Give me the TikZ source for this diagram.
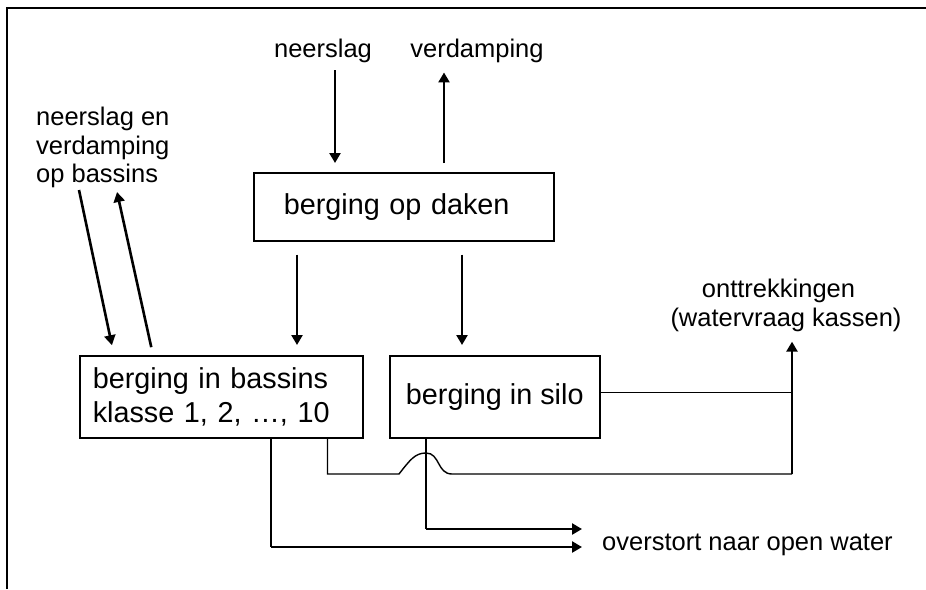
\documentclass[tikz,border=0pt]{standalone}
\usepackage{fontspec}
\setmainfont{Liberation Sans}
\usetikzlibrary{arrows.meta,calc}
\newcommand\boxfont{\fontsize{28.8}{34}\selectfont}
\newcommand\lblfont{\fontsize{25.5}{28.5}\selectfont}
\begin{document}
\begin{tikzpicture}[x=1pt,y=-1pt,
  box/.style={draw, line width=1.5pt, inner ysep=0pt, font=\boxfont},
  lbl/.style={inner sep=0pt, font=\lblfont},
  wire/.style={line width=1.4pt},
  flow/.style={line width=2.6pt, -{Triangle[length=10pt,width=11pt]}}]
\useasboundingbox (0,0) rectangle (926,589);
% frame: top and left edge only
\draw[line width=2.4pt] (7,589) -- (7,8) -- (926,8);

% storage boxes
\node[box, anchor=north west, minimum width=300pt, minimum height=68pt,
      text width=240pt, inner xsep=30pt, align=left] (daken) at (253,172) {berging op daken};
\node[box, anchor=north west, minimum width=283pt, minimum height=82pt,
      text width=257pt, inner xsep=13pt, align=left] (bassins) at (79,355)
      {berging in bassins\\klasse 1, 2, …, 10};
\node[box, anchor=north west, minimum width=210pt, minimum height=82pt] (silo) at (389,355) {berging in silo};

% labels
\node[lbl, anchor=base] (neer) at (323,57) {neerslag};
\node[lbl, anchor=base] (verd) at (477,57) {verdamping};
\node[lbl, anchor=north west, align=left] (nvb) at (36,107) {neerslag en\\verdamping\\op bassins};
\node[lbl, anchor=north, align=center] (ott) at (786,279) {onttrekkingen\hspace*{15pt}\\(watervraag kassen)};
\node[lbl, anchor=base west] (over) at (602,550) {overstort naar open water};

% roof: precipitation in, evaporation out
\coordinate (inN) at ([xshift=82pt]daken.north west);
\coordinate (outV) at ([xshift=191pt]daken.north west);
\draw[flow, shorten <=8pt, shorten >=9pt] (inN |- neer.south) -- (inN);
\draw[flow, shorten <=9pt, shorten >=10pt] (outV) -- (outV |- verd.south);

% roof to basins and silo
\coordinate (dA) at ([xshift=44pt]daken.south west);
\coordinate (dB) at ([xshift=209pt]daken.south west);
\draw[flow, shorten <=13pt, shorten >=10pt] (dA) -- (dA |- bassins.north);
\draw[flow, shorten <=13pt, shorten >=10pt] (dB) -- (dB |- silo.north);

% basins: precipitation and evaporation
\coordinate (bTopIn) at (79,190);
\coordinate (bTopOut) at (117,192);
\draw[flow, shorten >=10pt] (bTopIn) -- ([xshift=35pt]bassins.north west);
\draw[flow, shorten <=8pt] ([xshift=74pt]bassins.north west) -- (bTopOut);

% withdrawals
\coordinate (ottFoot) at (792,474);
\draw[wire] ([yshift=4pt]silo.east) -- ([yshift=4pt]silo.east -| ottFoot);
\draw[wire] ([xshift=-36pt]bassins.south east) |- (399,474)
  .. controls (410,460) and (415,453) .. (426,453)
  .. controls (440,453) and (437,474) .. (452,474) -- (ottFoot);
\draw[flow, shorten >=10pt] (ottFoot) -- (ott.south -| ottFoot);

% overflow to open water
\coordinate (ovA) at ([xshift=37pt]silo.south west |- 0,529);
\coordinate (ovB) at ([xshift=192pt]bassins.south west |- 0,547);
\draw[wire] ([xshift=37pt]silo.south west) -- (ovA);
\draw[flow] (ovA) -- (582,529);
\draw[wire] ([xshift=192pt]bassins.south west) -- (ovB);
\draw[flow] (ovB) -- (582,547);
\end{tikzpicture}
\end{document}
